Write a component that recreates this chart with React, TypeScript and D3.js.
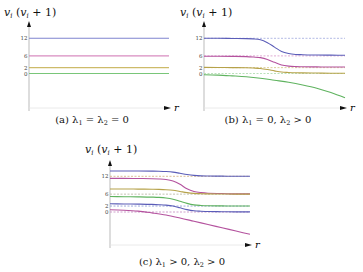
import React from 'react';
import * as d3 from 'd3';

// tick labels on the vertical axis
const ticks = [0, 2, 6, 12];

// sample positions along r
const rFine = [0, 1, 2, 3, 3.5, 4, 4.5, 5, 5.5, 6, 6.5, 7, 8, 9, 10];
const rCoarse = [0, 1, 2, 3, 4, 5, 6, 7, 8, 9, 10];

// (b) lambda1 = 0, lambda2 > 0
const bBlue = [12, 12, 11.95, 11.9, 11.8, 11.5, 10.5, 9, 7.5, 6.8, 6.5, 6.4, 6.3, 6.25, 6.2];
const bMagenta = [5.9, 5.9, 5.85, 5.75, 5.6, 5.4, 4.8, 3.8, 2.9, 2.5, 2.35, 2.3, 2.25, 2.2, 2.2];
const bOlive = [2.1, 2.05, 2.0, 1.95, 1.85, 1.7, 1.35, 0.9, 0.5, 0.35, 0.25, 0.2, 0.15, 0.1, 0.1];
const bGreen = [-0.45, -0.55, -0.8, -1.1, -1.6, -2.3, -3.0, -3.9, -5.0, -6.5, -8.3];

// (c) lambda1 > 0, lambda2 > 0
const cBlueTop = [13.8, 13.8, 13.8, 13.75, 13.7, 13.6, 13.4, 13.0, 12.6, 12.3, 12.15, 12.1, 12.05, 12.0, 12.0];
const cMagentaTop = [11.3, 11.3, 11.25, 11.2, 11.1, 10.9, 10.4, 9.3, 7.8, 6.9, 6.5, 6.3, 6.2, 6.1, 6.1];
const cOlive = [7.75, 7.75, 7.7, 7.65, 7.6, 7.5, 7.3, 6.9, 6.5, 6.25, 6.15, 6.1, 6.05, 6.0, 6.0];
const cGreen = [5.2, 5.15, 5.1, 5.0, 4.9, 4.7, 4.3, 3.6, 2.9, 2.4, 2.2, 2.1, 2.05, 2.0, 2.0];
const cBlueLow = [2.75, 2.7, 2.65, 2.55, 2.45, 2.3, 2.0, 1.4, 0.8, 0.4, 0.25, 0.15, 0.1, 0.05, 0.05];
const cMagentaLow = [0.75, 0.6, 0.3, -0.3, -1.0, -2.0, -3.1, -4.2, -5.3, -6.4, -7.5];

const BLUE = '#5b5db8';
const MAGENTA = '#b4529e';
const OLIVE = '#b6a24a';
const GREEN = '#5fb35f';
const SERIF = "'DejaVu Serif', serif";

type Series = { r: number[]; v: number[]; color: string };
type Ref = { v: number; color: string };

interface PanelProps {
  x0: number; // axis x
  x1: number; // end of lines
  yZero: number;
  yTwelve: number;
  axisTop: number;
  axisBottom: number;
  titleX: number;
  titleY: number;
  series: Series[];
  refs: Ref[];
  caption: React.ReactNode;
  captionX: number;
  captionY: number;
}

function Title({ x, y }: { x: number; y: number }) {
  return (
    <text x={x} y={y} fontSize={11} style={{ fontFamily: SERIF }} fill="#111">
      <tspan fontStyle="italic">v</tspan>
      <tspan fontStyle="italic" fontSize={7} dy={2}>i</tspan>
      <tspan dy={-2}> (</tspan>
      <tspan fontStyle="italic">v</tspan>
      <tspan fontStyle="italic" fontSize={7} dy={2}>i</tspan>
      <tspan dy={-2}> + 1)</tspan>
    </text>
  );
}

function Panel(p: PanelProps) {
  const x = d3.scaleLinear().domain([0, 10]).range([p.x0, p.x1]);
  const y = d3.scaleLinear().domain([0, 12]).range([p.yZero, p.yTwelve]);
  const line = d3
    .line<[number, number]>()
    .x((d) => x(d[0]))
    .y((d) => y(d[1]))
    .curve(d3.curveMonotoneX);
  const xAxisY = p.axisBottom - 3;
  return (
    <g>
      <Title x={p.titleX} y={p.titleY} />
      {/* axes */}
      <line x1={p.x0} x2={p.x0} y1={p.axisTop + 4} y2={p.axisBottom} stroke="#aaa" strokeWidth={0.8} />
      <path d={`M${p.x0},${p.axisTop} l-2,6 l4,0 z`} fill="#111" />
      <line x1={p.x0} x2={p.x1 - 2} y1={xAxisY} y2={xAxisY} stroke="#e4e4e4" strokeWidth={0.8} />
      <path d={`M${p.x1 + 2},${xAxisY} l-7,-2 l0,4 z`} fill="#111" />
      <text x={p.x1 + 5} y={xAxisY + 3} fontSize={10} fontStyle="italic" style={{ fontFamily: SERIF }}>
        r
      </text>
      {ticks.map((t) => (
        <text
          key={t}
          x={p.x0 - 1.5}
          y={y(t) + 2}
          fontSize={5.5}
          textAnchor="end"
          style={{ fontFamily: SERIF }}
          fill="#444"
        >
          {t}
        </text>
      ))}
      {p.refs.map((r) => (
        <line
          key={r.v}
          x1={p.x0}
          x2={p.x1}
          y1={y(r.v)}
          y2={y(r.v)}
          stroke={r.color}
          strokeWidth={0.9}
          strokeDasharray="2,1.5"
        />
      ))}
      {p.series.map((s, i) => (
        <path
          key={i}
          d={line(s.r.map((r, j) => [r, s.v[j]] as [number, number])) || ''}
          fill="none"
          stroke={s.color}
          strokeWidth={1.1}
        />
      ))}
      <text
        x={p.captionX}
        y={p.captionY}
        fontSize={10}
        textAnchor="middle"
        style={{ fontFamily: SERIF }}
        fill="#111"
      >
        {p.caption}
      </text>
    </g>
  );
}

const flat = (v: number) => [v, v];

const sub = (s: string) => (
  <tspan fontSize={6.5} dy={2}>
    {s}
  </tspan>
);

export default function App(): JSX.Element {
  return (
    <svg
      width={363}
      height={272}
      style={{ position: 'absolute', left: 0, top: 0, background: '#fff' }}
    >
      <Panel
        x0={29}
        x1={169}
        yZero={73.5}
        yTwelve={38.3}
        axisTop={21}
        axisBottom={111}
        titleX={4}
        titleY={16}
        refs={[]}
        series={[
          { r: [0, 10], v: flat(12), color: '#7f84cf' },
          { r: [0, 10], v: flat(6), color: '#d88cc0' },
          { r: [0, 10], v: flat(2), color: '#cdbb6a' },
          { r: [0, 10], v: flat(0), color: '#79c679' }
        ]}
        caption={
          <>
            (a) λ{sub('1')}
            <tspan dy={-2}> = λ</tspan>
            {sub('2')}
            <tspan dy={-2}> = 0</tspan>
          </>
        }
        captionX={92}
        captionY={123}
      />
      <Panel
        x0={204}
        x1={345}
        yZero={73.5}
        yTwelve={38.3}
        axisTop={21}
        axisBottom={111}
        titleX={180}
        titleY={16}
        refs={[
          { v: 12, color: '#aab3e2' },
          { v: 6, color: '#dca3cf' },
          { v: 2, color: '#d9c98f' },
          { v: 0, color: '#b3deb3' }
        ]}
        series={[
          { r: rFine, v: bBlue, color: BLUE },
          { r: rFine, v: bMagenta, color: MAGENTA },
          { r: rFine, v: bOlive, color: OLIVE },
          { r: rCoarse, v: bGreen, color: GREEN }
        ]}
        caption={
          <>
            (b) λ{sub('1')}
            <tspan dy={-2}> = 0, λ</tspan>
            {sub('2')}
            <tspan dy={-2}> &gt; 0</tspan>
          </>
        }
        captionX={268}
        captionY={123}
      />
      <Panel
        x0={110}
        x1={250}
        yZero={212}
        yTwelve={176.3}
        axisTop={160}
        axisBottom={248}
        titleX={85}
        titleY={153}
        refs={[
          { v: 12, color: '#d8b88c' },
          { v: 6, color: '#bdbcaa' },
          { v: 2, color: '#94a3d8' },
          { v: 0, color: '#c994c6' }
        ]}
        series={[
          { r: rFine, v: cBlueTop, color: BLUE },
          { r: rFine, v: cMagentaTop, color: MAGENTA },
          { r: rFine, v: cOlive, color: OLIVE },
          { r: rFine, v: cGreen, color: GREEN },
          { r: rFine, v: cBlueLow, color: BLUE },
          { r: rCoarse, v: cMagentaLow, color: MAGENTA }
        ]}
        caption={
          <>
            (c) λ{sub('1')}
            <tspan dy={-2}> &gt; 0, λ</tspan>
            {sub('2')}
            <tspan dy={-2}> &gt; 0</tspan>
          </>
        }
        captionX={182}
        captionY={265}
      />
    </svg>
  );
}
